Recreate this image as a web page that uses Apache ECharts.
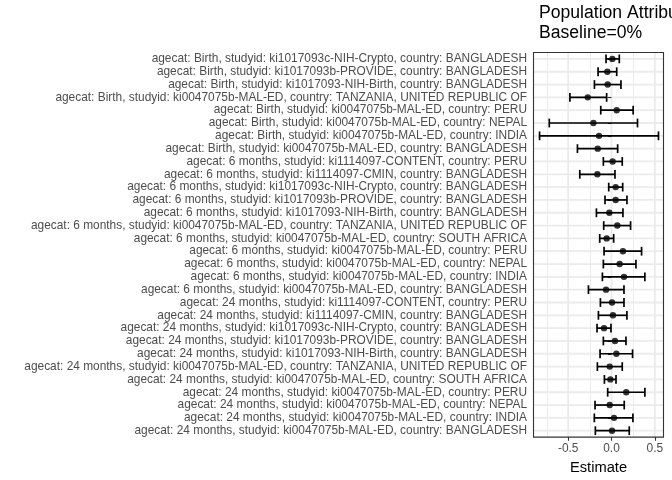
<!DOCTYPE html>
<html><head><meta charset="utf-8">
<script src="https://cdn.jsdelivr.net/npm/echarts@6/dist/echarts.min.js"></script>
<style>html,body{margin:0;padding:0;background:#fff}#c{width:672px;height:480px}</style>
</head><body><div id="c"></div>
<script>
const categories = [
  "agecat: Birth, studyid: ki1017093c-NIH-Crypto, country: BANGLADESH",
  "agecat: Birth, studyid: ki1017093b-PROVIDE, country: BANGLADESH",
  "agecat: Birth, studyid: ki1017093-NIH-Birth, country: BANGLADESH",
  "agecat: Birth, studyid: ki0047075b-MAL-ED, country: TANZANIA, UNITED REPUBLIC OF",
  "agecat: Birth, studyid: ki0047075b-MAL-ED, country: PERU",
  "agecat: Birth, studyid: ki0047075b-MAL-ED, country: NEPAL",
  "agecat: Birth, studyid: ki0047075b-MAL-ED, country: INDIA",
  "agecat: Birth, studyid: ki0047075b-MAL-ED, country: BANGLADESH",
  "agecat: 6 months, studyid: ki1114097-CONTENT, country: PERU",
  "agecat: 6 months, studyid: ki1114097-CMIN, country: BANGLADESH",
  "agecat: 6 months, studyid: ki1017093c-NIH-Crypto, country: BANGLADESH",
  "agecat: 6 months, studyid: ki1017093b-PROVIDE, country: BANGLADESH",
  "agecat: 6 months, studyid: ki1017093-NIH-Birth, country: BANGLADESH",
  "agecat: 6 months, studyid: ki0047075b-MAL-ED, country: TANZANIA, UNITED REPUBLIC OF",
  "agecat: 6 months, studyid: ki0047075b-MAL-ED, country: SOUTH AFRICA",
  "agecat: 6 months, studyid: ki0047075b-MAL-ED, country: PERU",
  "agecat: 6 months, studyid: ki0047075b-MAL-ED, country: NEPAL",
  "agecat: 6 months, studyid: ki0047075b-MAL-ED, country: INDIA",
  "agecat: 6 months, studyid: ki0047075b-MAL-ED, country: BANGLADESH",
  "agecat: 24 months, studyid: ki1114097-CONTENT, country: PERU",
  "agecat: 24 months, studyid: ki1114097-CMIN, country: BANGLADESH",
  "agecat: 24 months, studyid: ki1017093c-NIH-Crypto, country: BANGLADESH",
  "agecat: 24 months, studyid: ki1017093b-PROVIDE, country: BANGLADESH",
  "agecat: 24 months, studyid: ki1017093-NIH-Birth, country: BANGLADESH",
  "agecat: 24 months, studyid: ki0047075b-MAL-ED, country: TANZANIA, UNITED REPUBLIC OF",
  "agecat: 24 months, studyid: ki0047075b-MAL-ED, country: SOUTH AFRICA",
  "agecat: 24 months, studyid: ki0047075b-MAL-ED, country: PERU",
  "agecat: 24 months, studyid: ki0047075b-MAL-ED, country: NEPAL",
  "agecat: 24 months, studyid: ki0047075b-MAL-ED, country: INDIA",
  "agecat: 24 months, studyid: ki0047075b-MAL-ED, country: BANGLADESH"
];
const estimates = [0.010, -0.048, -0.044, -0.274, 0.060, -0.209, -0.144, -0.159,
  0.013, -0.163, 0.048, 0.048, -0.025, 0.067, -0.056, 0.132, 0.094, 0.144, -0.063,
  0.006, 0.017, -0.086, 0.040, 0.056, -0.021, -0.013, 0.170, -0.021, 0.029, 0.006];
const lower = [-0.063, -0.155, -0.197, -0.480, -0.124, -0.718, -0.830, -0.393,
  -0.094, -0.366, -0.032, -0.075, -0.174, -0.090, -0.136, -0.086, -0.094, -0.105, -0.266,
  -0.128, -0.151, -0.167, -0.094, -0.132, -0.163, -0.082, -0.044, -0.190, -0.198, -0.186];
const upper = [0.090, 0.060, 0.109, -0.056, 0.250, 0.300, 0.542, 0.071,
  0.124, 0.040, 0.129, 0.178, 0.132, 0.220, 0.025, 0.347, 0.282, 0.385, 0.144,
  0.144, 0.178, -0.006, 0.167, 0.243, 0.124, 0.052, 0.385, 0.147, 0.247, 0.205];
const xTickValues = [-0.5, 0, 0.5];
const xMinorGridValues = [-0.75, -0.25, 0.25];
const xRange = [-0.9, 0.6];
const titleText = "Population Attributable Fraction\nBaseline=0%";
const xAxisTitle = "Estimate";

(function () {
const chart = echarts.init(document.getElementById('c'), null, {renderer: 'canvas'});
const FONT = '"Liberation Sans", Arial, Helvetica, sans-serif';

const barData = categories.map((c, i) => [lower[i], upper[i], i]);
const pointData = categories.map((c, i) => [estimates[i], i]);

function lineEl(x1, y1, x2, y2, color, w, z) {
  return {type: 'line', silent: true, z: z, shape: {x1, y1, x2, y2}, style: {stroke: color, lineWidth: w}};
}

chart.setOption({
  animation: false,
  backgroundColor: '#ffffff',
  title: {
    text: titleText,
    left: 539, top: 3, padding: 0,
    textStyle: {fontFamily: FONT, fontSize: 17.6, fontWeight: 'normal', color: '#000', lineHeight: 20}
  },
  grid: {left: 533.5, right: 8.5, top: 52.5, bottom: 42.5, show: false, containLabel: false},
  xAxis: {
    type: 'value', min: xRange[0], max: xRange[1], splitNumber: 6, minInterval: 0.25, maxInterval: 0.25,
    axisLine: {show: false},
    axisTick: {show: true, length: 3.7, customValues: xTickValues, lineStyle: {color: '#333333', width: 1.1}},
    axisLabel: {customValues: xTickValues, margin: 6, color: '#4d4d4d', fontFamily: FONT, fontSize: 11.9,
      formatter: v => (Math.abs(v) < 1e-9 ? '0.0' : v.toFixed(1))},
    splitLine: {show: false},
    name: xAxisTitle, nameLocation: 'middle', nameGap: 19,
    nameTextStyle: {fontFamily: FONT, fontSize: 14.7, color: '#000'}
  },
  yAxis: {
    type: 'category', data: categories, inverse: true, boundaryGap: true,
    axisLine: {show: false},
    axisTick: {show: true, alignWithLabel: true, length: 3.7, lineStyle: {color: '#333333', width: 1.1}},
    axisLabel: {margin: 6.5, color: '#4d4d4d', fontFamily: FONT, fontSize: 11.9, interval: 0},
    splitLine: {show: false}
  },
  series: [
    {
      type: 'custom',
      data: barData,
      encode: {x: [0, 1], y: 2},
      renderItem: function (params, api) {
        const y = api.value(2);
        const p1 = api.coord([api.value(0), y]);
        const p2 = api.coord([api.value(1), y]);
        const h = 4.4;
        const style = {stroke: '#000', lineWidth: 1.7, fill: null};
        return {
          type: 'group',
          children: [
            {type: 'line', shape: {x1: p1[0], y1: p1[1], x2: p2[0], y2: p2[1]}, style: style},
            {type: 'line', shape: {x1: p1[0], y1: p1[1] - h, x2: p1[0], y2: p1[1] + h}, style: style},
            {type: 'line', shape: {x1: p2[0], y1: p2[1] - h, x2: p2[0], y2: p2[1] + h}, style: style}
          ]
        };
      },
      z: 3
    },
    {
      type: 'scatter', data: pointData, symbol: 'circle', symbolSize: 6.4,
      itemStyle: {color: '#000'}, z: 4
    }
  ]
});

// Panel gridlines and border, positioned through the axes' own scales
const n = categories.length;
const xL = chart.convertToPixel({xAxisIndex: 0}, xRange[0]);
const xR = chart.convertToPixel({xAxisIndex: 0}, xRange[1]);
const y0 = chart.convertToPixel({yAxisIndex: 0}, 0);
const yN = chart.convertToPixel({yAxisIndex: 0}, n - 1);
const band = (yN - y0) / (n - 1);
const yT = y0 - band / 2, yB = yN + band / 2;
const els = [];
xMinorGridValues.forEach(v => {
  const px = Math.round(chart.convertToPixel({xAxisIndex: 0}, v)) + 0.5;
  els.push(lineEl(px, yT, px, yB, '#ebebeb', 1, -10));
});
xTickValues.forEach(v => {
  const px = chart.convertToPixel({xAxisIndex: 0}, v);
  els.push(lineEl(px, yT, px, yB, '#ebebeb', 1.8, -9));
});
categories.forEach((c, i) => {
  const py = chart.convertToPixel({yAxisIndex: 0}, i);
  els.push(lineEl(xL, py, xR, py, '#ebebeb', 1.8, -9));
});
els.push({type: 'rect', silent: true, z: 10, shape: {x: xL, y: yT, width: xR - xL, height: yB - yT},
  style: {fill: null, stroke: '#333333', lineWidth: 1.1}});
chart.setOption({graphic: {elements: els}});
})();
</script>
</body></html>
